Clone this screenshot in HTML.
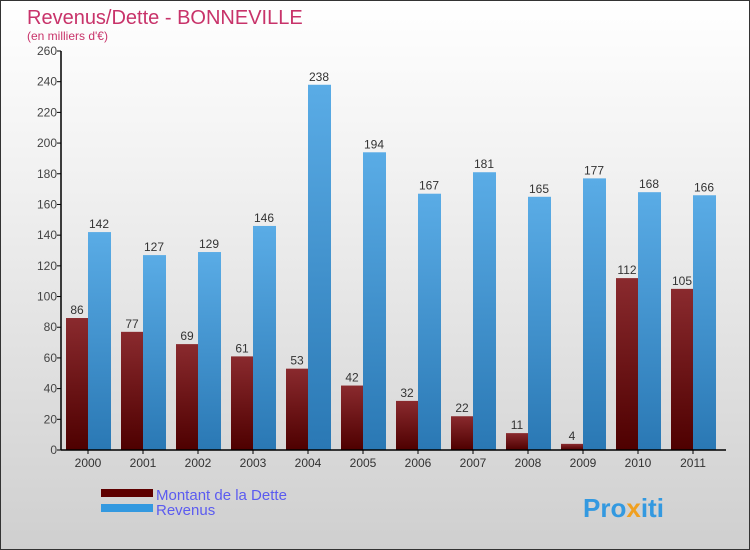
<!DOCTYPE html>
<html><head><meta charset="utf-8"><style>
body{margin:0;}
#wrap{position:relative;width:748px;height:548px;border:1px solid #333;background:linear-gradient(#fff,#f2f2f2 30%,#cfcfcf);font-family:"Liberation Sans",sans-serif;overflow:hidden}
</style></head><body>
<div id="wrap">
<svg id="chart" width="748" height="548">
<defs>
<linearGradient id="gd" x1="0" y1="0" x2="0" y2="1"><stop offset="0" stop-color="#8a2a2e"/><stop offset="1" stop-color="#4e0000"/></linearGradient>
<linearGradient id="gr" x1="0" y1="0" x2="0" y2="1"><stop offset="0" stop-color="#5aace6"/><stop offset="1" stop-color="#2a78b4"/></linearGradient>
</defs>
<text x="26" y="23" font-size="20" fill="#c8336a">Revenus/Dette - BONNEVILLE</text>
<text x="26" y="39" font-size="12" fill="#c8336a">(en milliers d'€)</text>
<g id="plot"></g>
<rect x="100" y="488" width="52" height="8" fill="#5e0000"/>
<text x="155" y="499" font-size="15" fill="#5b5bf0">Montant de la Dette</text>
<rect x="100" y="503" width="52" height="8" fill="#3399e0"/>
<text x="155" y="514" font-size="15" fill="#5b5bf0">Revenus</text>
<text x="582" y="516" font-size="26" font-weight="bold" fill="#3399e0">Pro<tspan fill="#f0a020">x</tspan>iti</text>
</svg>
</div>
<script>
const years=["2000","2001","2002","2003","2004","2005","2006","2007","2008","2009","2010","2011"];
const dette=[86,77,69,61,53,42,32,22,11,4,112,105];
const revenus=[142,127,129,146,238,194,167,181,165,177,168,166];
const yTicks=[0,20,40,60,80,100,120,140,160,180,200,220,240,260];
const NS="http://www.w3.org/2000/svg";
const g=document.getElementById('plot');
const y0=449,ymax=50,vmax=260,ax=60;
const y=v=>y0-(v/vmax)*(y0-ymax);
const cx=i=>87+55*i;
function mk(t,a){const e=document.createElementNS(NS,t);for(const k in a)e.setAttribute(k,a[k]);g.appendChild(e);return e;}
yTicks.forEach(v=>{
  const l=mk('line',{x1:ax-4,x2:ax,y1:y(v),y2:y(v),stroke:'#000'});
  
  
  const t=mk('text',{x:ax-4,y:y(v)+4,'font-size':12,fill:'#444','text-anchor':'end'});t.textContent=v;
  
  
});
years.forEach((yr,i)=>{
  const c=cx(i);
  const b1=mk('rect',{x:c-22,y:y(dette[i]),width:22,height:y0-y(dette[i]),fill:'url(#gd)'});
  
  
  const b2=mk('rect',{x:c,y:y(revenus[i]),width:23,height:y0-y(revenus[i]),fill:'url(#gr)'});
  
  
  const t1=mk('text',{x:c-11,y:y(dette[i])-4,'font-size':12,fill:'#333','text-anchor':'middle'});t1.textContent=dette[i];
  
  
  const t2=mk('text',{x:c+11,y:y(revenus[i])-4,'font-size':12,fill:'#333','text-anchor':'middle'});t2.textContent=revenus[i];
  
  
  const xl=mk('text',{x:c,y:466,'font-size':12,fill:'#333','text-anchor':'middle'});xl.textContent=yr;
  
  
  const tk=mk('line',{x1:c,x2:c,y1:y0,y2:y0+4,stroke:'#000'});
  
  
});
const ya=mk('line',{x1:ax,x2:ax,y1:ymax,y2:y0,stroke:'#000','stroke-width':1.5});


const xa=mk('line',{x1:ax,x2:725,y1:y0,y2:y0,stroke:'#000','stroke-width':1.5});


</script>
</body></html>
